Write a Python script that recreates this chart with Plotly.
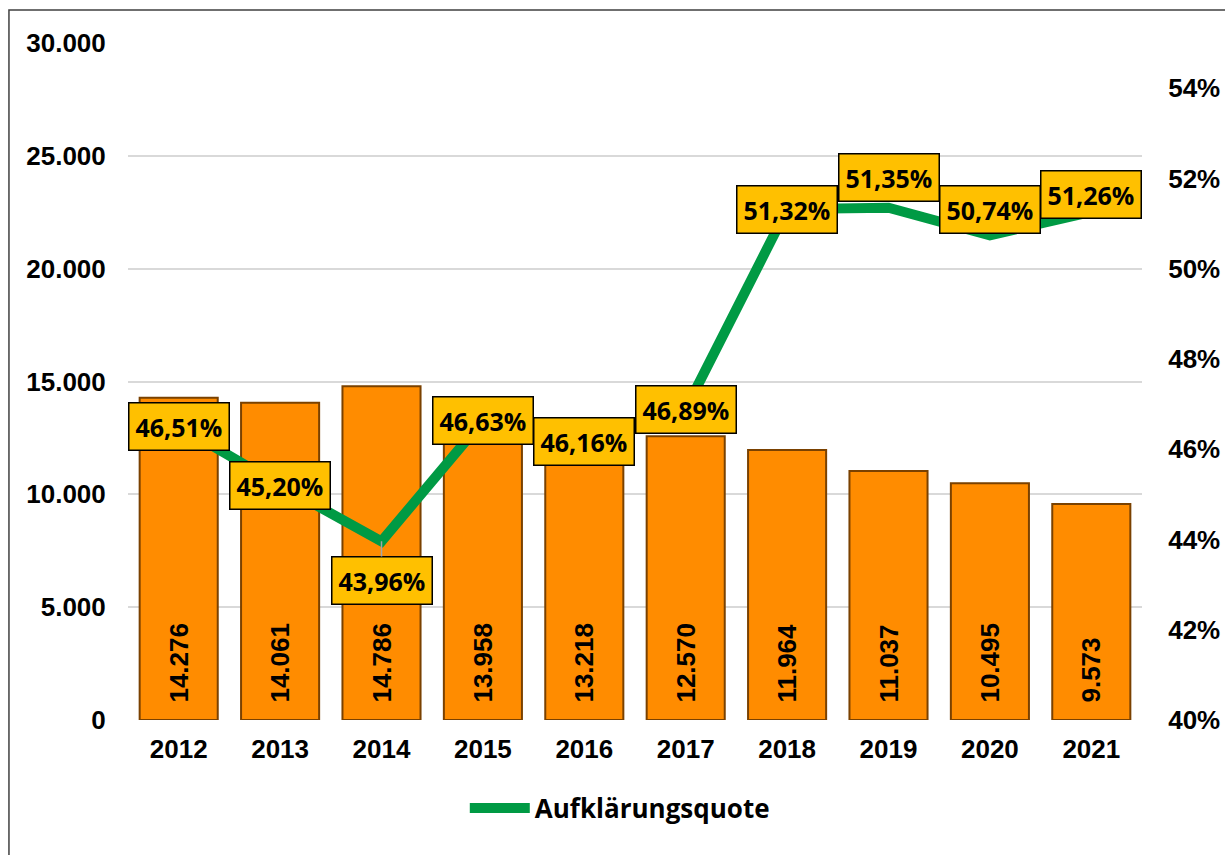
import plotly.graph_objects as go

years = ["2012", "2013", "2014", "2015", "2016", "2017", "2018", "2019", "2020", "2021"]
cases = [14276, 14061, 14786, 13958, 13218, 12570, 11964, 11037, 10495, 9573]
quote = [46.51, 45.20, 43.96, 46.63, 46.16, 46.89, 51.32, 51.35, 50.74, 51.26]
left_ticks = [0, 5000, 10000, 15000, 20000, 25000, 30000]
right_ticks = [40, 42, 44, 46, 48, 50, 52, 54]
line_name = "Aufklärungsquote"

# label offsets (pixels) for the percentage boxes
label_shift = [0, 0, -39, 0, 0, 0, 0, 30, 26, 17]

TICKFONT = dict(family="Liberation Sans, Arial", size=26, color="black", weight="bold")
BOXFONT = dict(family="Open Sans", size=25, color="black", weight="bold")

fig = go.Figure()
fig.add_trace(go.Bar(
    x=years, y=cases, yaxis="y", showlegend=False,
    marker=dict(color="#FF8C00", line=dict(color="#7A4100", width=2)),
    texttemplate="\u00a0\u00a0%{y:,d}", textposition="inside", insidetextanchor="start",
    textangle=-90, textfont=dict(family="Liberation Sans, Arial", size=26, color="black", weight="bold"),
    hoverinfo="skip",
))
fig.add_trace(go.Scatter(
    x=years, y=quote, yaxis="y2", mode="lines", name=line_name,
    line=dict(color="#009A44", width=10),
))

for i, (q, s) in enumerate(zip(quote, label_shift)):
    txt = f"{q:.2f}".replace(".", ",") + "%"
    common = dict(x=i, y=q, xref="x", yref="y2", text=txt, bgcolor="#FFC000",
                  bordercolor="black", borderwidth=1.5, borderpad=6, font=BOXFONT)
    if s < 0:
        fig.add_annotation(**common, showarrow=True, ax=0, ay=-s, arrowhead=0,
                           arrowcolor="#A6A6A6", arrowwidth=1.5)
    else:
        fig.add_annotation(**common, showarrow=False, yshift=s)

# outer chart border
fig.add_shape(type="rect", xref="paper", yref="paper",
              x0=-0.1174, x1=1.09, y0=-0.21, y1=1.0487,
              line=dict(color="#404040", width=1.5), fillcolor="rgba(0,0,0,0)", layer="below")

fig.update_layout(
    width=1225, height=855,
    margin=dict(l=128, r=83, t=43, b=135, autoexpand=False),
    paper_bgcolor="white", plot_bgcolor="white",
    separators=",.",
    bargap=0.23,
    xaxis=dict(type="category", range=[-0.5, len(years) - 0.5], tickfont=TICKFONT,
               showgrid=False, showline=False, automargin=False,
               ticks="outside", ticklen=6, tickcolor="rgba(0,0,0,0)"),
    yaxis=dict(range=[0, 30000], tickvals=left_ticks, tickformat=",d", tickfont=TICKFONT,
               showgrid=True, gridcolor="#D9D9D9", gridwidth=1.5, zeroline=False,
               automargin=False,
               ticks="outside", ticklen=16, tickcolor="rgba(0,0,0,0)"),
    yaxis2=dict(range=[40, 55], tickvals=right_ticks, ticktext=[f"{v}%" for v in right_ticks],
                overlaying="y", side="right", tickfont=TICKFONT, showgrid=False, zeroline=False,
                automargin=False,
                ticks="outside", ticklen=20, tickcolor="rgba(0,0,0,0)"),
    legend=dict(orientation="h", x=0.485, xanchor="center", y=-0.13, yanchor="middle",
                font=dict(family="Open Sans", size=26, color="black", weight="bold"),
                itemwidth=60),
)

fig.write_html("out.html", config={"displayModeBar": False},
               post_script="document.body.style.margin='0';")
